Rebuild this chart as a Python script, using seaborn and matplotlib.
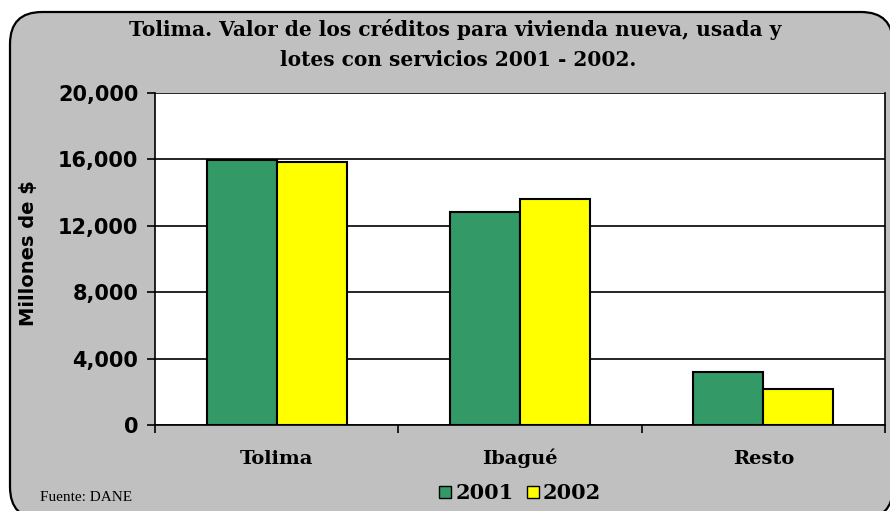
import matplotlib
matplotlib.use("Agg")
import matplotlib.pyplot as plt
import seaborn as sns
import pandas as pd
from matplotlib.patches import FancyBboxPatch
from matplotlib.lines import Line2D
from matplotlib.ticker import FuncFormatter, FixedLocator

categories = ["Tolima", "Ibagué", "Resto"]
years = ["2001", "2002"]
values_2001 = [15980, 12830, 3190]
values_2002 = [15850, 13620, 2170]
yticks = [0, 4000, 8000, 12000, 16000, 20000]
colors = {"2001": "#339966", "2002": "#FFFF00"}

df = pd.DataFrame({
    "cat": categories * 2,
    "year": [years[0]] * 3 + [years[1]] * 3,
    "val": values_2001 + values_2002,
})

sns.set_theme(style="white")
plt.rcParams['font.family'] = ['DejaVu Sans']

fig = plt.figure(figsize=(8.9, 5.11), dpi=100)
fig.patch.set_facecolor("white")
bg = FancyBboxPatch((10 / 890, -8 / 511), 883 / 890, 507 / 511,
                    boxstyle="round,pad=0,rounding_size=0.036",
                    transform=fig.transFigure, facecolor="#C0C0C0",
                    edgecolor="black", linewidth=1.6, zorder=-10,
                    mutation_aspect=890 / 511)
fig.patches.append(bg)

ax = fig.add_axes([155 / 890, 1 - 425 / 511, 730 / 890, 332 / 511])
ax.set_zorder(5)
ax.set_facecolor("white")
sns.barplot(data=df, x="cat", y="val", hue="year", palette=colors,
            width=0.575, gap=0, edgecolor="black", linewidth=1.5,
            saturation=1, ax=ax, zorder=3, legend=False)

ax.set_xlim(-0.5, 2.5)
ax.set_ylim(0, 20000)
ax.yaxis.set_major_locator(FixedLocator(yticks))
ax.yaxis.set_major_formatter(FuncFormatter(lambda v, p: f"{int(v):,}"))
ax.grid(axis="y", color="black", linewidth=1.2, zorder=0)
ax.set_axisbelow(True)
for s in ["left", "bottom", "top", "right"]:
    ax.spines[s].set_color("black")
    ax.spines[s].set_linewidth(1.2)
ax.spines["top"].set_visible(False)

ax.tick_params(axis="y", which="major", direction="out", length=6, width=1.2,
               color="black", left=True, labelsize=15, pad=6)
for lab in ax.get_yticklabels():
    lab.set_fontweight("bold")
    lab.set_color("black")

ax.set_xticks([0, 1, 2])
ax.set_xticklabels(categories, fontfamily="DejaVu Serif", fontweight="bold",
                   fontsize=14, va="baseline")
ax.tick_params(axis="x", which="major", length=0, pad=28, labelcolor="black")
ax.set_xticks([-0.5, 0.5, 1.5, 2.5], minor=True)
ax.tick_params(axis="x", which="minor", direction="out", length=6, width=1.2,
               color="black", bottom=True)

ax.set_xlabel("")
ax.set_ylabel("Millones de $", fontsize=14, fontweight="bold", color="black")
ax.yaxis.set_label_coords(-0.160, 0.518)

fig.text(455 / 890, 1 - 30 / 511,
         "Tolima. Valor de los créditos para vivienda nueva, usada y",
         ha="center", va="center", fontfamily="DejaVu Serif",
         fontweight="bold", fontsize=14.5, color="black")
fig.text(458 / 890, 1 - 60 / 511, "lotes con servicios 2001 - 2002.",
         ha="center", va="center", fontfamily="DejaVu Serif",
         fontweight="bold", fontsize=14.5, color="black")

fig.text(40 / 890, 1 - 497 / 511, "Fuente: DANE", ha="left", va="center",
         fontfamily="Liberation Serif", fontsize=11, color="black")

handles = [Line2D([0], [0], marker="s", linestyle="none", markersize=8,
                  markerfacecolor=colors[y], markeredgecolor="black",
                  markeredgewidth=1) for y in years]
leg = fig.legend(handles, years, loc="center", bbox_to_anchor=(518 / 890, 1 - 493 / 511),
                 ncol=2, frameon=False, handletextpad=0.0, columnspacing=0.4,
                 handlelength=1.0,
                 prop={"family": "DejaVu Serif", "weight": "bold", "size": 15})
for t in leg.get_texts():
    t.set_color("black")

fig.savefig("out.png", dpi=100, facecolor=fig.get_facecolor())
